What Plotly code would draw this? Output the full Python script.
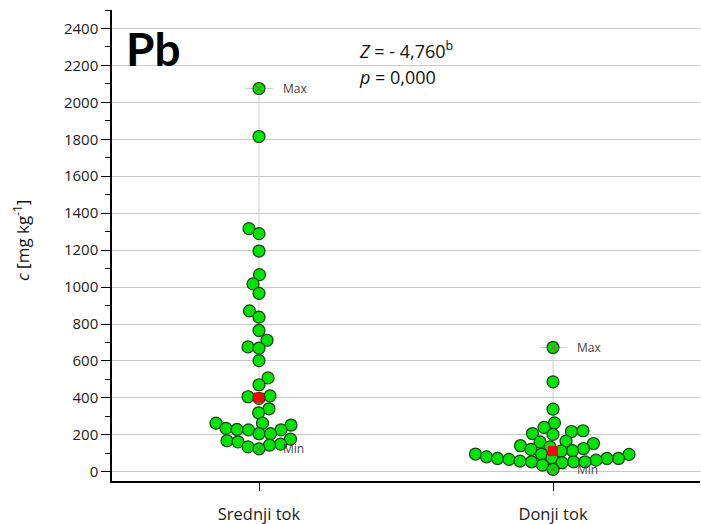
import numpy as np
import plotly.graph_objects as go

# Pb concentrations (mg/kg) per river section
categories = ["Srednji tok", "Donji tok"]
srednji = [2075, 1815, 1316, 1289, 1195, 1067, 1017, 966, 871, 837, 765, 712,
           676, 669, 602, 508, 471, 411, 406, 397, 341, 319, 263, 263, 253,
           235, 229, 227, 227, 206, 206, 177, 168, 162, 150, 144, 135, 124]
donji = [673, 487, 339, 265, 240, 222, 218, 207, 202, 166, 162, 153, 141,
         135, 126, 121, 114, 112, 96, 96, 94, 81, 76, 72, 72, 72, 67, 63, 58,
         54, 54, 54, 49, 36, 13]
groups = [srednji, donji]
y_ticks = list(range(0, 2401, 200))

# Figure geometry (pixels)
W, H = 701, 524
ML, MR, MT, MB = 112, 1, 10, 43
PW, PH = W - ML - MR, H - MT - MB
X_RANGE = [0.5, 2.5]
Y_RANGE = [-50, 2500]
px_per_x = PW / (X_RANGE[1] - X_RANGE[0])
px_per_y = PH / (Y_RANGE[1] - Y_RANGE[0])
DIAM = 13.0

GREEN = "#00e400"
EDGE = "#1a3d1a"


def swarm_offsets(vals, min_dist=DIAM * 0.85):
    """Beeswarm layout: offset each point sideways until it stops overlapping."""
    vals = np.asarray(vals, float)
    order = np.argsort(vals)
    placed = []
    offs = np.zeros(len(vals))
    for n, i in enumerate(order):
        yp = vals[i] * px_per_y
        o = 0.0
        chosen = None
        while chosen is None:
            signs = (-1, 1) if n % 2 else (1, -1)
            for s in signs:
                cand = s * o
                if all((cand - px) ** 2 + (yp - py) ** 2 >= min_dist ** 2 for px, py in placed):
                    chosen = cand
                    break
            o += 0.5
        placed.append((chosen, yp))
        offs[i] = chosen
    return offs / px_per_x


def px_to_paper(x, y):
    return (x - ML) / PW, (H - MB - y) / PH


fig = go.Figure()
cap = 14 / px_per_x
label_dx = 22 / px_per_x

for k, (name, vals) in enumerate(zip(categories, groups)):
    xc = k + 1
    vmax, vmin, vmed = max(vals), min(vals), float(np.median(vals))
    # whisker from min to max with end caps
    fig.add_trace(go.Scatter(
        x=[xc, xc, None, xc - cap, xc + cap, None, xc - cap, xc + cap],
        y=[vmin, vmax, None, vmax, vmax, None, vmin, vmin],
        mode="lines", line=dict(color="#cfcfcf", width=1),
        hoverinfo="skip", showlegend=False))
    # individual samples
    offs = swarm_offsets(vals)
    fig.add_trace(go.Scatter(
        x=xc + offs, y=vals, mode="markers", name=name,
        marker=dict(size=DIAM - 1, color=GREEN, line=dict(color=EDGE, width=1.2)),
        showlegend=False))
    # max / min markers
    fig.add_trace(go.Scatter(
        x=[xc, xc], y=[vmax, vmin], mode="markers",
        marker=dict(symbol="x-thin", size=8, line=dict(color="rgba(170,70,70,0.55)", width=1.2)),
        hoverinfo="skip", showlegend=False))
    # median
    fig.add_trace(go.Scatter(
        x=[xc], y=[vmed], mode="markers",
        marker=dict(symbol="square", size=10, color="#ff0000"),
        showlegend=False))
    for txt, v in (("Max", vmax), ("Min", vmin)):
        fig.add_annotation(x=xc + label_dx, y=v, text=txt, showarrow=False,
                           xanchor="left", yanchor="middle",
                           font=dict(family="Open Sans", size=12, color="#444444"))

# panel title and test statistics
px_, py_ = px_to_paper(124, 49)
fig.add_annotation(x=px_, y=py_, xref="paper", yref="paper", text="<b>Pb</b>",
                   showarrow=False, xanchor="left", yanchor="middle",
                   font=dict(family="Lato", size=46, color="#000000"))
px_, py_ = px_to_paper(357, 50)
fig.add_annotation(x=px_, y=py_, xref="paper", yref="paper",
                   text="<i>Z</i> = - 4,760<sup>b</sup>",
                   showarrow=False, xanchor="left", yanchor="middle",
                   font=dict(family="Open Sans", size=18, color="#111111"))
px_, py_ = px_to_paper(357, 77)
fig.add_annotation(x=px_, y=py_, xref="paper", yref="paper",
                   text="<i>p</i> = 0,000",
                   showarrow=False, xanchor="left", yanchor="middle",
                   font=dict(family="Open Sans", size=18, color="#111111"))
# y-axis title
px_, py_ = px_to_paper(21, 241)
fig.add_annotation(x=px_, y=py_, xref="paper", yref="paper",
                   text="<i>c</i> [mg kg<sup>-1</sup>]", textangle=-90,
                   showarrow=False, xanchor="center", yanchor="middle",
                   font=dict(family="Open Sans", size=17, color="#111111"))

fig.update_layout(
    width=W, height=H,
    margin=dict(l=ML, r=MR, t=MT, b=MB),
    paper_bgcolor="white", plot_bgcolor="white",
    xaxis=dict(range=X_RANGE, tickvals=[1, 2], ticktext=categories,
               automargin=False,
               showgrid=False, zeroline=False, showline=True,
               linecolor="#000000", linewidth=1.5,
               ticks="outside", ticklen=8, tickwidth=1.2, tickcolor="#000000",
               ticklabelstandoff=9,
               tickfont=dict(family="Open Sans", size=16.5, color="#222222")),
    yaxis=dict(range=Y_RANGE, tickvals=y_ticks, automargin=False,
               showgrid=True, gridcolor="#c8c8c8", gridwidth=1,
               zeroline=False, showline=True,
               linecolor="#000000", linewidth=1.5,
               ticks="outside", ticklen=9, tickwidth=1.2, tickcolor="#000000",
               minor=dict(tickvals=list(range(100, 2501, 200)), ticks="outside",
                          ticklen=5, tickwidth=1.2, tickcolor="#000000", showgrid=False),
               tickfont=dict(family="Open Sans", size=15, color="#222222")),
)

fig.write_html("out.html")
